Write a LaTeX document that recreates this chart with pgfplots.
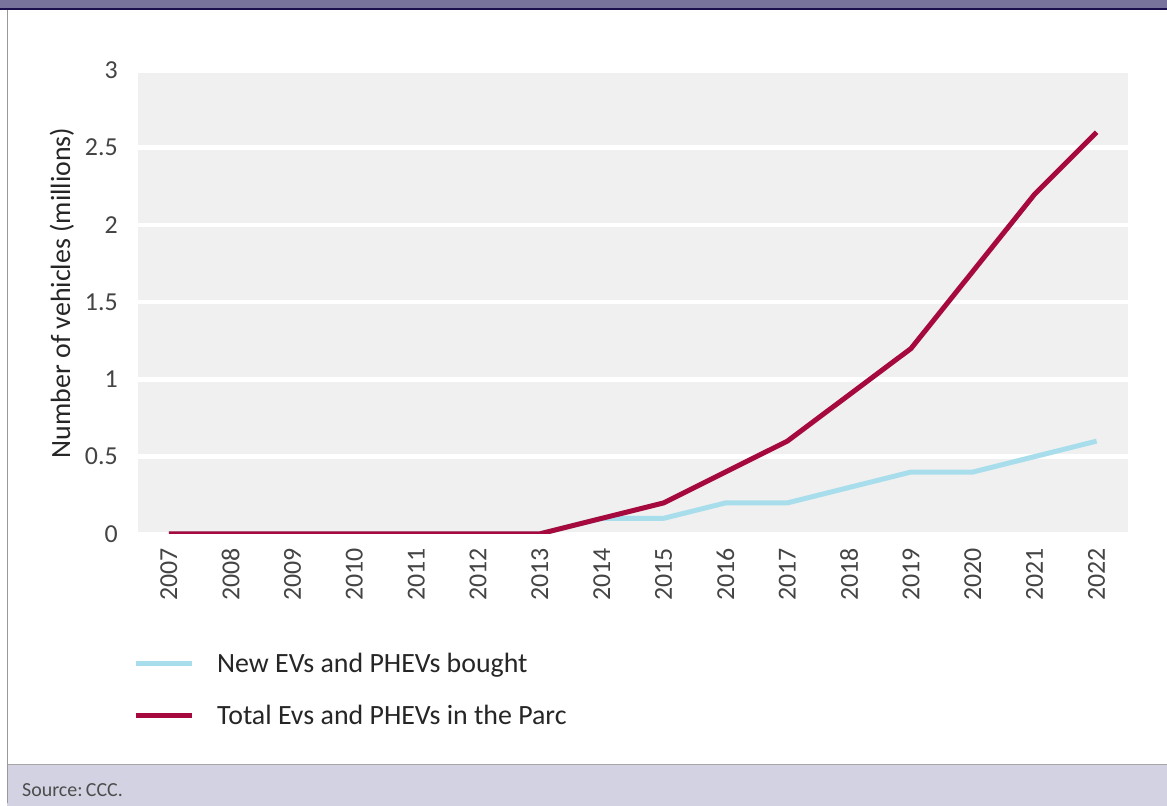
\documentclass[border=0pt]{standalone}
\usepackage{pgfplots}
\pgfplotsset{compat=1.18}
\usepackage{fontspec}
\setmainfont{Carlito}
\definecolor{topband}{HTML}{78739D}
\definecolor{navy}{HTML}{1B0F4E}
\definecolor{srcband}{HTML}{D3D2E3}
\definecolor{plotbg}{HTML}{F0F0F0}
\definecolor{evred}{HTML}{A6093D}
\definecolor{evcyan}{HTML}{A8DEEC}
\definecolor{ticktext}{HTML}{444444}
\begin{document}
\begin{tikzpicture}[x=1bp,y=-1bp]
% frame
\fill[white] (0,0) rectangle (1167,806);
\fill[topband] (0,0) rectangle (1167,8);
\fill[navy] (0,8) rectangle (1167,10.5);
\fill[srcband] (7,765) rectangle (1167,806);
\draw[gray!70, line width=1bp] (7,765) -- (1167,765);
\draw[gray!80, line width=1.5bp] (7.5,10) -- (7.5,803);
\node[anchor=base west, inner sep=0pt, text=black!70, font=\fontsize{20}{24}\selectfont] at (22,797) {Source:\,CCC.};
\begin{axis}[
    at={(138bp,-534bp)}, anchor=south west,
    scale only axis,
    width=990bp, height=463.5bp,
    xmin=2006.5, xmax=2022.5,
    ymin=0, ymax=3,
    xtick={2007,...,2022},
    ytick={0,0.5,1,1.5,2,2.5,3},
    yticklabels={0,0.5,1,1.5,2,2.5,3},
    xticklabels={2007,2008,2009,2010,2011,2012,2013,2014,2015,2016,2017,2018,2019,2020,2021,2022},
    axis background/.style={fill=plotbg},
    ymajorgrids,
    grid style={white, line width=4.5bp},
    axis line style={draw=none},
    major tick length=0pt,
    tick style={draw=none},
    xticklabel style={rotate=90, anchor=east, inner sep=0pt, text=ticktext, font=\fontsize{26}{28}\selectfont},
    yticklabel style={anchor=east, inner sep=0pt, text=ticktext, font=\fontsize{26}{28}\selectfont},
    xticklabel shift=14bp,
    yticklabel shift=20bp,
    ylabel={Number of vehicles (millions)},
    ylabel style={at={(axis description cs:-0.0768,0.52)}, anchor=center, inner sep=0pt, text=black!85, font=\fontsize{28}{30}\selectfont},
    legend style={at={(axis description cs:-0.008,-0.252)}, anchor=north west, draw=none, fill=none,
        font=\fontsize{28}{30}\selectfont, text=black!85, row sep=32bp,
        nodes={inner sep=0pt, anchor=west}},
    legend cell align=left,
    legend image code/.code={\draw[#1, line width=5bp] (0bp,0bp) -- (56bp,0bp);},
    /tikz/every odd column/.style={column sep=0pt},
    legend columns=1,
]
\addplot[evcyan, line width=5bp] coordinates {
    (2007,0) (2008,0) (2009,0) (2010,0) (2011,0) (2012,0) (2013,0)
    (2014,0.1) (2015,0.1) (2016,0.2) (2017,0.2) (2018,0.3)
    (2019,0.4) (2020,0.4) (2021,0.5) (2022,0.6)
};
\addlegendentry{\hspace{23bp}New EVs and PHEVs bought}
\addplot[evred, line width=5bp] coordinates {
    (2007,0) (2008,0) (2009,0) (2010,0) (2011,0) (2012,0) (2013,0)
    (2014,0.1) (2015,0.2) (2016,0.4) (2017,0.6) (2018,0.9)
    (2019,1.2) (2020,1.7) (2021,2.2) (2022,2.6)
};
\addlegendentry{\hspace{23bp}Total Evs and PHEVs in the Parc}
\end{axis}
\end{tikzpicture}
\end{document}
